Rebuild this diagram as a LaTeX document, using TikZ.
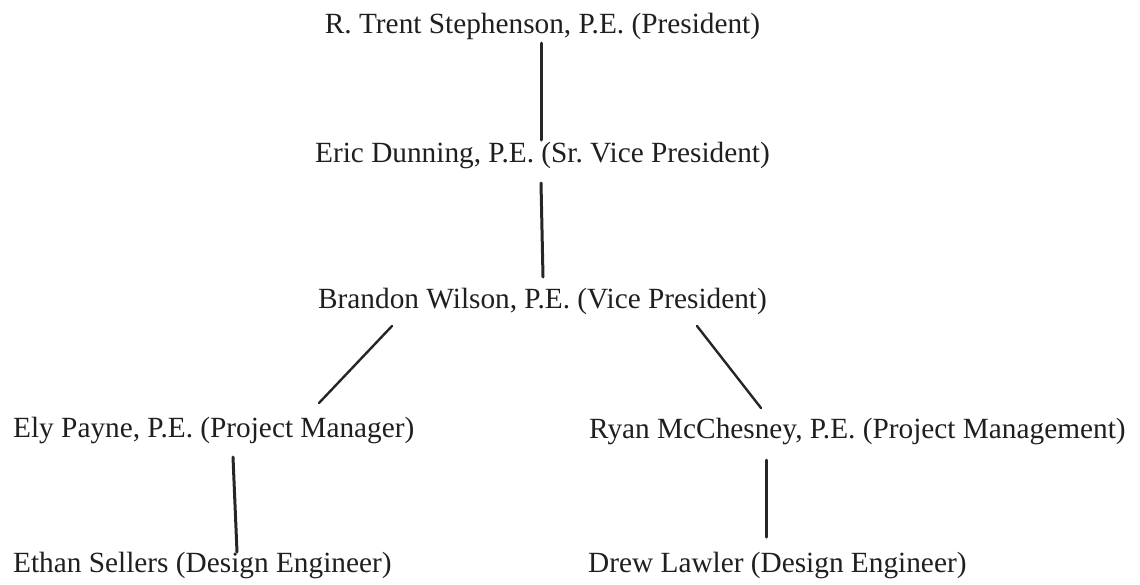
\documentclass[tikz,border=0pt]{standalone}
\usepackage{fontspec}
\setmainfont{Liberation Serif}
\begin{document}
\begin{tikzpicture}[x=1pt,y=-1pt,
  person/.style={inner sep=0pt,font=\fontsize{29.3}{35}\selectfont\frenchspacing,text=black!88},
  vline/.style={line width=3pt,line cap=round,black!85},
  dline/.style={line width=2.4pt,line cap=round,black!85}]
\useasboundingbox (0,0) rectangle (1140,584);
\node[person,anchor=base] (pres) at (542.5,33) {R. Trent Stephenson, P.E. (President)};
\node[person,anchor=base] (eric) at (542.5,162) {Eric Dunning, P.E. (Sr. Vice President)};
\node[person,anchor=base] (bran) at (542.5,308) {Brandon Wilson, P.E. (Vice President)};
\node[person,anchor=base west] (ely) at (13,437) {Ely Payne, P.E. (Project Manager)};
\node[person,anchor=base west] (ryan) at (589,438) {Ryan McChesney, P.E. (Project Management)};
\node[person,anchor=base west] (ethan) at (13,572) {Ethan Sellers (Design Engineer)};
\node[person,anchor=base west] (drew) at (588,572) {Drew Lawler (Design Engineer)};
\draw[vline] ([shift={(-1.5,10)}]pres.base) -- ([shift={(-1.5,-22)}]eric.base);
\draw[vline] ([shift={(-1.5,21)}]eric.base) -- ([shift={(0.5,-31)}]bran.base);
\draw[dline] ([shift={(-150.5,18)}]bran.base) -- ([shift={(306,-34)}]ely.base west);
\draw[dline] ([shift={(154.5,18)}]bran.base) -- ([shift={(172,-30)}]ryan.base west);
\draw[vline] ([shift={(220,20)}]ely.base west) -- ([shift={(224,-20)}]ethan.base west);
\draw[vline] ([shift={(177,22)}]ryan.base west) -- ([shift={(178,-35)}]drew.base west);
\end{tikzpicture}
\end{document}
